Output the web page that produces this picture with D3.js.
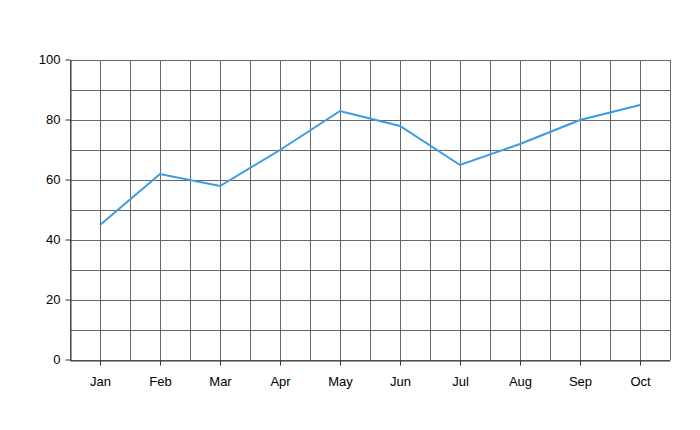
<!DOCTYPE html>
<html><head><meta charset="utf-8">
<script src="https://cdn.jsdelivr.net/npm/d3@7"></script>
<style>body{margin:0;background:#fff}svg{display:block}</style>
</head><body>
<script>
const months = ["Jan","Feb","Mar","Apr","May","Jun","Jul","Aug","Sep","Oct"];
const values = [45, 62, 58, 70, 83, 78, 65, 72, 80, 85];
const yTicks = [0, 20, 40, 60, 80, 100];
const yGrid = [0,10,20,30,40,50,60,70,80,90,100];

const W = 700, H = 430;
const m = {left: 70, right: 30, top: 60, bottom: 70};
const svg = d3.select("body").append("svg").attr("width", W).attr("height", H);
const x = d3.scalePoint().domain(months).range([m.left, W - m.right]).padding(0.5);
const y = d3.scaleLinear().domain([0, 100]).range([H - m.bottom, m.top]);
const step = x.step();

// vertical gridlines at centers and boundaries
const vx = [];
months.forEach(d => { vx.push(x(d) - step/2); vx.push(x(d)); });
vx.push(x(months[months.length-1]) + step/2);
svg.append("g").selectAll("line").data(vx).join("line")
  .attr("x1", d => Math.round(d) + 0.5).attr("x2", d => Math.round(d) + 0.5)
  .attr("y1", y(100)).attr("y2", y(0))
  .attr("stroke", "#666").attr("stroke-width", 1);
svg.append("g").selectAll("line").data(yGrid).join("line")
  .attr("x1", m.left).attr("x2", W - m.right)
  .attr("y1", d => Math.round(y(d)) + 0.5).attr("y2", d => Math.round(y(d)) + 0.5)
  .attr("stroke", "#666").attr("stroke-width", 1);

// axes
const yAxis = svg.append("g").attr("transform", `translate(${m.left + 0.5},0)`)
  .call(d3.axisLeft(y).tickValues(yTicks).tickSize(5).tickSizeOuter(0).tickPadding(5));
const xAxis = svg.append("g").attr("transform", `translate(0,${y(0) + 0.5})`)
  .call(d3.axisBottom(x).tickSize(5).tickSizeOuter(0).tickPadding(11));
[yAxis, xAxis].forEach(g => {
  g.selectAll("path.domain").attr("stroke", "#333");
  g.selectAll(".tick line").attr("stroke", "#333");
  g.selectAll("text").attr("font-family", "Liberation Sans, Arial, sans-serif")
    .attr("font-size", 13).attr("fill", "#000");
});
yAxis.selectAll(".tick").attr("transform", d => `translate(0,${Math.round(y(d)) })`);
xAxis.selectAll(".tick").attr("transform", d => `translate(${Math.round(x(d)) + 0.5},0)`);

// line
const line = d3.line().x((d, i) => x(months[i])).y(d => y(d));
svg.append("path").datum(values)
  .attr("fill", "none").attr("stroke", "#3a9be0").attr("stroke-width", 2)
  .attr("d", line);
</script>
</body></html>
